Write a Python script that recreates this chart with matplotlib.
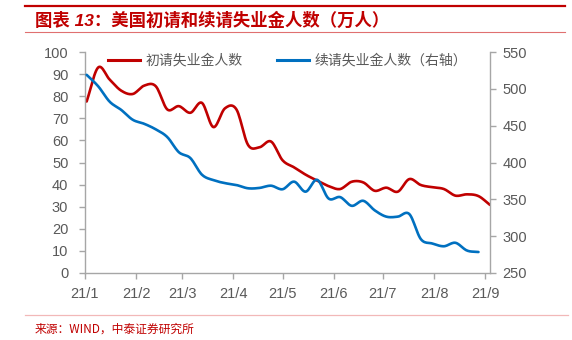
import datetime as dt
import numpy as np
import matplotlib
matplotlib.use("Agg")
import matplotlib.pyplot as plt
import matplotlib.dates as mdates
from matplotlib.lines import Line2D

plt.rcParams['font.family'] = ['Liberation Sans', 'Noto Sans CJK SC', 'DejaVu Sans']

# weekly data, 2021
week_dates = [
    "2021-01-02", "2021-01-09", "2021-01-16", "2021-01-23", "2021-01-30",
    "2021-02-06", "2021-02-13", "2021-02-20", "2021-02-27", "2021-03-06",
    "2021-03-13", "2021-03-20", "2021-03-27", "2021-04-03", "2021-04-10",
    "2021-04-17", "2021-04-24", "2021-05-01", "2021-05-08", "2021-05-15",
    "2021-05-22", "2021-05-29", "2021-06-05", "2021-06-12", "2021-06-19",
    "2021-06-26", "2021-07-03", "2021-07-10", "2021-07-17", "2021-07-24",
    "2021-07-31", "2021-08-07", "2021-08-14", "2021-08-21", "2021-08-28",
    "2021-09-04",
]
# 初请失业金人数 (万人), left axis
initial_claims = [
    77.6, 93.0, 87.5, 82.5, 81.0, 84.8, 84.5, 74.0, 75.5, 72.5,
    77.0, 66.0, 74.5, 74.0, 58.0, 56.9, 59.5, 51.0, 47.8, 44.5,
    41.8, 39.3, 38.0, 41.3, 41.0, 37.2, 38.6, 36.8, 42.5, 39.8,
    38.8, 38.0, 35.0, 35.6, 34.8, 30.8,
]
# 续请失业金人数 (万人), right axis, one week shorter
continuing_claims = [
    519.0, 503.5, 482.5, 471.4, 458.0, 452.5, 445.0, 434.5, 414.0, 406.0,
    383.5, 376.0, 372.0, 369.4, 365.0, 365.5, 368.5, 363.7, 374.0, 360.4,
    376.5, 351.0, 353.0, 341.2, 348.0, 335.0, 326.5, 326.5, 330.0, 296.0,
    290.0, 286.3, 291.0, 280.5, 278.5,
]
month_ticks = ["2021-01-01", "2021-02-01", "2021-03-01", "2021-04-01", "2021-05-01",
               "2021-06-01", "2021-07-01", "2021-08-01", "2021-09-01"]
month_labels = ["21/1", "21/2", "21/3", "21/4", "21/5", "21/6", "21/7", "21/8", "21/9"]

RED = "#C00000"
BLUE = "#0070C0"
GREY = "#595959"
AXGREY = "#A6A6A6"
CJK = ['Noto Sans CJK SC', 'DejaVu Sans']


def smooth_line(x, y, steps=12):
    # excel-style smoothed line (catmull-rom through the weekly points)
    x = np.asarray(x, float)
    y = np.asarray(y, float)
    xp = np.concatenate([[2 * x[0] - x[1]], x, [2 * x[-1] - x[-2]]])
    yp = np.concatenate([[2 * y[0] - y[1]], y, [2 * y[-1] - y[-2]]])
    t = np.linspace(0, 1, steps, endpoint=False)
    xs, ys = [], []
    for i in range(1, len(xp) - 2):
        for p, out in ((xp, xs), (yp, ys)):
            p0, p1, p2, p3 = p[i - 1], p[i], p[i + 1], p[i + 2]
            out.extend(0.5 * (2 * p1 + (-p0 + p2) * t + (2 * p0 - 5 * p1 + 4 * p2 - p3) * t ** 2
                              + (-p0 + 3 * p1 - 3 * p2 + p3) * t ** 3))
    xs.append(x[-1])
    ys.append(y[-1])
    return np.array(xs), np.array(ys)


dates = mdates.date2num([dt.datetime.strptime(d, "%Y-%m-%d") for d in week_dates])
ticks = [dt.datetime.strptime(d, "%Y-%m-%d") for d in month_ticks]

fig = plt.figure(figsize=(5.72, 3.40), dpi=100)
ax = fig.add_axes([85 / 572, 1 - 273 / 340, 405 / 572, 221 / 340])
ax2 = ax.twinx()

rx, ry = smooth_line(dates, initial_claims)
bx, by = smooth_line(dates[:len(continuing_claims)], continuing_claims)
ax.plot(mdates.num2date(rx), ry, color=RED, lw=1.9, solid_capstyle="round", solid_joinstyle="round")
ax2.plot(mdates.num2date(bx), by, color=BLUE, lw=1.9, solid_capstyle="round", solid_joinstyle="round")

ax.set_xlim(dt.datetime(2021, 1, 1), dt.datetime(2021, 9, 4))
ax.set_ylim(0, 100)
ax.set_yticks(range(0, 101, 10))
ax2.set_ylim(250, 550)
ax2.set_yticks(range(250, 551, 50))
ax.set_xticks(ticks)
ax.set_xticklabels(month_labels)

for a in (ax, ax2):
    a.spines["top"].set_visible(False)
    for s in ("left", "right", "bottom"):
        a.spines[s].set_color(AXGREY)
        a.spines[s].set_linewidth(1.0)
ax.spines["right"].set_visible(False)
ax2.spines["left"].set_visible(False)
ax2.spines["bottom"].set_visible(False)

ax.tick_params(axis="y", direction="out", length=4, width=1, color=AXGREY,
               labelsize=10.5, labelcolor=GREY, pad=8)
ax.tick_params(axis="x", direction="out", length=4, width=1, color=AXGREY,
               labelsize=10.5, labelcolor=GREY, pad=6)
ax2.tick_params(axis="y", direction="out", length=4, width=1, color=AXGREY,
                labelsize=10.5, labelcolor=GREY, pad=5)

handles = [Line2D([], [], color=RED, lw=2.2), Line2D([], [], color=BLUE, lw=2.2)]
leg = ax.legend(handles, ["初请失业金人数", "续请失业金人数（右轴）"], ncol=2,
                loc="center left", bbox_to_anchor=(108 / 572, 1 - 61 / 340),
                bbox_transform=fig.transFigure, frameon=False, borderpad=0,
                borderaxespad=0, handlelength=2.3, handletextpad=0.4,
                columnspacing=2.5, prop={"family": CJK, "size": 10})
for t in leg.get_texts():
    t.set_color(GREY)

# header / footer decoration
fig.add_artist(Line2D([25 / 572, 565 / 572], [1 - 6 / 340, 1 - 6 / 340],
                      transform=fig.transFigure, color=RED, lw=1.6))
fig.add_artist(Line2D([25 / 572, 565 / 572], [1 - 32 / 340, 1 - 32 / 340],
                      transform=fig.transFigure, color="#E07070", lw=0.8))
fig.add_artist(Line2D([25 / 572, 568 / 572], [1 - 315 / 340, 1 - 315 / 340],
                      transform=fig.transFigure, color="#F2B8B8", lw=0.9))

fig.text(35 / 572, 1 - 20 / 340, "图表 13：美国初请和续请失业金人数（万人）",
         color=RED, fontsize=12.5, fontweight="bold", style="italic",
         family=['Liberation Sans', 'Noto Sans CJK SC', 'DejaVu Sans'], va="center", ha="left")
fig.text(35 / 572, 1 - 329 / 340, "来源：WIND，中泰证券研究所", color=RED, fontsize=8.5,
         family=CJK, va="center", ha="left")

fig.savefig("out.png", dpi=100)
